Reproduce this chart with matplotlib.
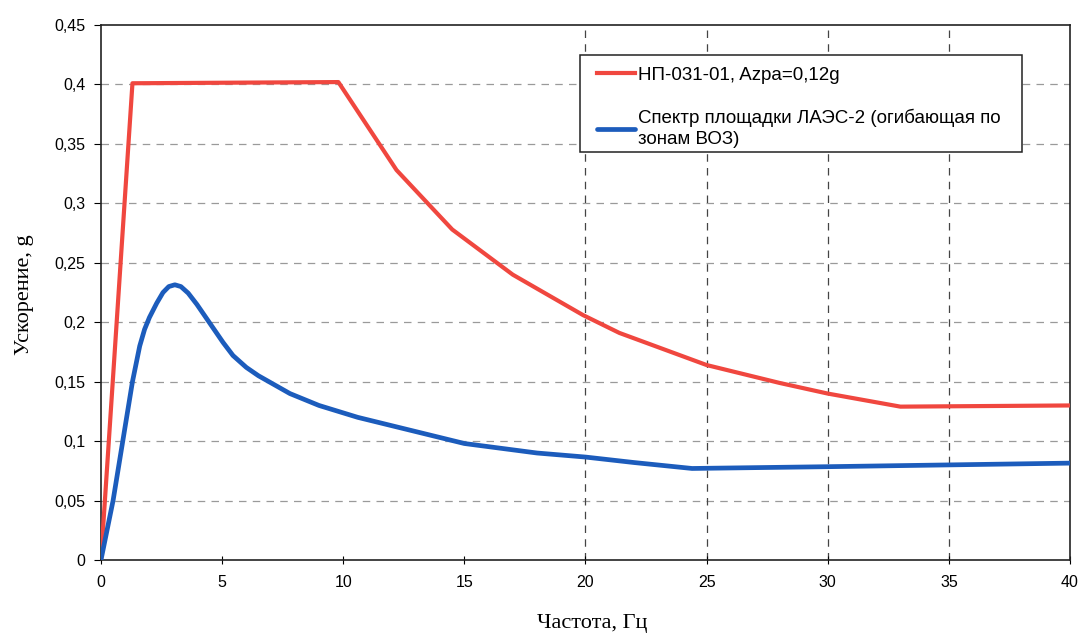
import matplotlib
matplotlib.use("Agg")
import matplotlib.pyplot as plt
from matplotlib.patches import Rectangle
from matplotlib.ticker import FuncFormatter, MultipleLocator

# НП-031-01 spectrum
red_x = [0, 1.3, 9.8, 12.2, 14.5, 17.0, 19.9, 21.4, 25, 28, 30, 33, 40]
red_y = [0, 0.401, 0.402, 0.328, 0.278, 0.240, 0.206, 0.191, 0.164, 0.149, 0.140, 0.129, 0.130]

# site spectrum (ЛАЭС-2)
blue_x = [0, 0.5, 0.9, 1.3, 1.6, 1.8, 2.0, 2.3, 2.56, 2.8, 3.05, 3.3, 3.6, 3.96,
          4.5, 5.04, 5.45, 6.0, 6.5, 7.8, 9.0, 10.6, 11.9, 15, 18, 20, 22, 24.4,
          30, 35, 40]
blue_y = [0, 0.05, 0.10, 0.15, 0.180, 0.194, 0.204, 0.216, 0.225, 0.230, 0.2315,
          0.230, 0.2245, 0.215, 0.199, 0.183, 0.172, 0.162, 0.155, 0.140, 0.130,
          0.120, 0.1135, 0.098, 0.090, 0.0866, 0.082, 0.077, 0.0785, 0.080, 0.0815]

red_label = "НП-031-01, Azpa=0,12g"
blue_label = "Спектр площадки ЛАЭС-2 (огибающая по\nзонам ВОЗ)"

fig = plt.figure(figsize=(10.81, 6.33), dpi=100)
ax = fig.add_axes([0.0934, 0.1153, 0.8964, 0.8452])

# grid: horizontal everywhere, vertical only 20..35
for yv in [0.05 * i for i in range(1, 9)]:
    ax.axhline(yv, color="#9a9a9a", lw=0.9, ls=(0, (6, 5)), zorder=1)
for xv in [20, 25, 30, 35]:
    ax.axvline(xv, color="#444444", lw=0.9, ls=(0, (6, 5)), zorder=1)

ax.plot(red_x, red_y, color="#f0473f", lw=3, label=red_label, zorder=3)
ax.plot(blue_x, blue_y, color="#1c5cbc", lw=3.4, label=blue_label, zorder=3,
        solid_capstyle="round", solid_joinstyle="round")

ax.set_xlim(0, 40)
ax.set_ylim(0, 0.45)
ax.xaxis.set_major_locator(MultipleLocator(5))
ax.yaxis.set_major_locator(MultipleLocator(0.05))
ax.yaxis.set_major_formatter(FuncFormatter(lambda v, p: ("%g" % round(v, 2)).replace(".", ",")))

for s in ax.spines.values():
    s.set_linewidth(1.2)
    s.set_color("#222222")

ax.tick_params(axis="x", direction="inout", length=6, labelsize=11.5, pad=8)
ax.tick_params(axis="y", direction="out", length=5, labelsize=11.5, pad=6)
for t in ax.get_xticklabels() + ax.get_yticklabels():
    t.set_family("Liberation Sans")

ax.set_xlabel("Частота, Гц", family="Liberation Serif", fontsize=16)
ax.xaxis.set_label_coords(0.507, -0.1)
ax.set_ylabel("Ускорение, g", family="Liberation Serif", fontsize=16)
ax.yaxis.set_label_coords(-0.069, 0.495)

# legend box drawn separately so the paddings match the original
box = Rectangle((0.4943, 0.7626), 0.4562, 0.1813, transform=ax.transAxes,
                facecolor="white", edgecolor="#222222", lw=1.1, zorder=4)
ax.add_patch(box)
leg = ax.legend(loc="upper left", bbox_to_anchor=(0.512, 0.922),
                borderaxespad=0, borderpad=0, frameon=False,
                handlelength=2.0, handletextpad=0.2, labelspacing=1.35,
                prop={"family": "Liberation Sans", "size": 13.5})
leg.get_texts()[1].set_linespacing(1.3)
leg.set_zorder(5)

fig.savefig("out.png", dpi=100)
